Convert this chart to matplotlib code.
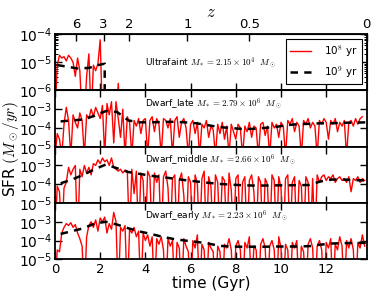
import numpy as np
import matplotlib
matplotlib.use("Agg")
import matplotlib.pyplot as plt
from matplotlib.ticker import FixedLocator, LogLocator, NullFormatter

plt.rcParams['mathtext.fontset'] = 'cm'
plt.rcParams['xtick.direction'] = 'in'
plt.rcParams['ytick.direction'] = 'in'

# log10 SFR, 0.1 Gyr bins starting at t = 0 (-7 means no star formation)
uf_red = [-7, -5.1, -4.75, -4.85, -4.8, -4.95, -4.75, -4.85, -5.0, -5.5,
          -4.85, -5.3, -7, -7, -5.5, -4.7, -7, -5.1, -5.3, -5.05,
          -4.2, -7, -7, -7, -7, -7, -7, -7, -5.75, -7]
late_red = [-5.5, -4.3, -4.6, -5.5, -3.8, -2.9, -3.6, -5.5, -3.3, -3.7,
            -4.0, -3.2, -3.6, -5.5, -3.3, -3.5, -3.0, -3.4, -2.9, -3.2,
            -3.5, -2.8, -5.5, -2.7, -3.3, -2.6, -4.8, -2.6, -3.5, -4.5,
            -3.0, -5.5, -3.4, -3.7, -5.5, -3.6, -3.9, -3.5, -4.3, -3.6,
            -3.5, -5.5, -3.6, -3.4, -4.2, -3.5, -3.8, -5.5, -3.5, -3.6,
            -4.0, -3.5, -5.5, -3.6, -3.4, -4.5, -3.7, -3.5, -4.0, -5.5,
            -3.8, -3.6, -4.3, -3.7, -5.5, -3.8, -4.0, -3.6, -4.5, -3.9,
            -4.1, -5.5, -3.8, -4.3, -3.7, -4.6, -3.9, -5.5, -3.8, -4.2,
            -4.6, -3.8, -4.0, -5.5, -3.9, -4.2, -3.7, -4.5, -3.9, -4.0,
            -5.5, -3.8, -3.7, -4.4, -3.9, -5.5, -3.7, -4.0, -3.8, -4.5,
            -3.7, -3.9, -5.5, -3.6, -3.8, -3.5, -4.2, -3.7, -3.9, -5.5,
            -3.6, -3.8, -3.5, -4.0, -3.7, -3.9, -5.5, -3.6, -3.8, -3.5,
            -3.7, -4.6, -3.6, -3.8, -3.5, -4.2, -3.7, -3.9, -3.6, -5.5,
            -3.7, -3.6, -3.9, -3.5, -3.8, -3.5, -3.4]
mid_red = [-7, -4.1, -4.4, -7, -4.2, -3.9, -3.1, -3.5, -3.2, -3.0,
           -7, -3.2, -3.6, -3.0, -3.4, -3.1, -3.5, -2.9, -3.0, -2.7,
           -2.9, -2.6, -2.8, -2.7, -3.0, -2.6, -3.1, -3.2, -3.3, -3.2,
           -3.4, -3.25, -3.3, -7, -3.2, -4.5, -3.3, -7, -3.4, -3.8,
           -7, -3.3, -3.6, -7, -3.4, -3.9, -3.5, -7, -3.6, -3.3,
           -4.2, -7, -3.7, -3.5, -7, -3.8, -3.4, -4.6, -7, -3.6,
           -3.9, -7, -3.5, -4.0, -7, -3.7, -3.3, -7, -3.6, -4.1,
           -7, -3.5, -3.9, -7, -3.6, -3.8, -7, -3.4, -4.3, -7,
           -3.7, -3.5, -7, -3.9, -3.6, -7, -3.8, -3.5, -4.4, -7,
           -3.6, -3.9, -7, -3.7, -4.0, -7, -3.5, -3.8, -7, -3.6,
           -4.2, -7, -3.7, -3.5, -7, -3.9, -3.6, -7, -3.8, -4.1,
           -7, -3.6, -3.9, -7, -3.7, -7, -3.5, -3.9, -3.6, -3.5,
           -3.8, -3.6, -3.7, -3.5, -3.9, -3.7, -3.6, -3.8, -3.7, -3.9,
           -3.6, -4.4, -3.7, -3.8, -3.6, -3.9, -3.7, -3.8]
early_red = [-7, -4.5, -4.6, -3.6, -3.3, -3.1, -3.2, -3.05, -3.3, -3.15,
             -3.6, -3.9, -4.3, -7, -3.8, -3.2, -3.0, -3.3, -2.9, -3.5,
             -2.8, -3.0, -2.75, -3.6, -3.1, -3.4, -2.5, -3.0, -7, -3.3,
             -3.5, -3.2, -7, -3.4, -3.6, -3.3, -3.8, -3.5, -7, -3.6,
             -4.0, -3.7, -4.3, -3.8, -7, -3.9, -4.2, -3.8, -4.5, -7,
             -3.9, -4.3, -4.0, -7, -4.1, -4.4, -7, -3.9, -4.3, -4.6,
             -7, -4.0, -4.4, -3.7, -7, -4.2, -4.5, -7, -4.1, -4.4,
             -4.6, -7, -4.3, -4.6, -7, -4.2, -4.4, -3.9, -4.5, -7,
             -4.3, -4.0, -4.5, -7, -4.1, -4.4, -3.8, -7, -4.3, -4.5,
             -7, -4.2, -3.9, -4.4, -7, -4.3, -4.0, -4.5, -7, -3.8,
             -4.4, -7, -4.2, -4.5, -7, -4.1, -4.4, -4.0, -7, -4.3,
             -4.6, -7, -4.2, -3.9, -4.4, -7, -4.3, -4.0, -4.5, -7,
             -4.1, -4.4, -3.9, -7, -4.2, -4.5, -3.8, -4.3, -7, -4.0,
             -4.4, -3.9, -4.5, -7, -4.1, -4.4, -3.7, -4.3]

# 1e9 yr averages
uf_t9 = [0.1, 0.5, 1.0, 1.5, 2.0, 2.2, 2.2]
uf_dash = [-5.1, -5.15, -5.22, -5.2, -5.08, -5.05, -7]
t9 = [0.25, 0.75, 1.25, 1.75, 2.25, 2.75, 3.25, 3.75, 4.25, 4.75, 5.25, 5.75, 6.25, 6.75,
      7.25, 7.75, 8.25, 8.75, 9.25, 9.75, 10.25, 10.75, 11.25, 11.75, 12.25, 12.75, 13.25, 13.75]
late_dash = [-3.65, -3.6, -3.55, -3.35, -3.1, -3.15, -3.6, -3.7, -3.7, -3.68, -3.67, -3.7, -3.75, -3.85,
             -3.95, -4.0, -4.05, -4.05, -4.0, -3.95, -3.85, -3.8, -3.78, -3.75, -3.75, -3.72, -3.72, -3.7]
mid_dash = [-3.95, -3.75, -3.5, -3.2, -2.95, -3.15, -3.35, -3.45, -3.55, -3.62, -3.7, -3.78, -3.85, -3.92,
            -3.98, -4.02, -4.05, -4.07, -4.07, -4.06, -4.06, -4.05, -4.04, -3.85, -3.75, -3.75, -3.78, -3.8]
early_dash = [-3.65, -3.5, -3.35, -3.1, -3.0, -3.15, -3.35, -3.52, -3.65, -3.8, -3.92, -4.0, -4.07, -4.15,
              -4.28, -4.32, -4.33, -4.33, -4.33, -4.32, -4.32, -4.32, -4.3, -4.22, -4.16, -4.14, -4.13, -4.12]

names = ["Ultrafaint", "Dwarf_late", "Dwarf_middle", "Dwarf_early"]
masses = [r"$M_*=2.15\times10^4\ \ M_\odot$", r"$M_*=2.79\times10^6\ \ M_\odot$",
          r"$M_*=2.66\times10^6\ \ M_\odot$", r"$M_*=2.23\times10^6\ \ M_\odot$"]
reds = [uf_red, late_red, mid_red, early_red]
dashes = [(uf_t9, uf_dash), (t9, late_dash), (t9, mid_dash), (t9, early_dash)]

z_ticks = [6, 3, 2, 1, 0.5, 0]
z_labels = ["6", "3", "2", "1", "0.5", "0"]
t_max = 13.8


def t_of_z(z):
    # flat LCDM age, H0=67.7, Om=0.31
    A = 2.0 / (3 * 0.8307) * 14.44
    return A * np.arcsinh(1.492 * (1.0 + np.asarray(z, float)) ** -1.5)


fig, axes = plt.subplots(4, 1, figsize=(3.74, 2.97), dpi=100, sharex=True)
fig.subplots_adjust(left=0.147, right=0.981, top=0.885, bottom=0.127, hspace=0)

for i, ax in enumerate(axes):
    r = np.array(reds[i])
    t = np.arange(len(r)) * 0.1
    ax.plot(t, 10.0 ** r, color='red', lw=1.0, label=r'10$^8$ yr')
    td, vd = dashes[i]
    ax.plot(td, 10.0 ** np.array(vd), color='black', ls='--', lw=1.8, dashes=(3, 2.5),
            label=r'10$^9$ yr')
    ax.set_yscale('log')
    if i == 0:
        ax.set_ylim(1e-6, 1e-4)
        exps = [-6, -5, -4]
        ty = 0.48
    else:
        ax.set_ylim(1e-5, 1e-2)
        exps = [-5, -4, -3]
        ty = 0.76
    ax.yaxis.set_major_locator(FixedLocator([10.0 ** e for e in exps]))
    ax.set_yticklabels([r"$\mathregular{10^{%d}}$" % e for e in exps], fontsize=10)
    ax.yaxis.set_minor_locator(LogLocator(base=10, subs=np.arange(2, 10)))
    ax.yaxis.set_minor_formatter(NullFormatter())
    ax.tick_params(which='both', top=True, right=True)
    ax.tick_params(which='major', length=5, width=1, pad=2)
    ax.tick_params(which='minor', length=2.5, width=0.7)
    for s in ax.spines.values():
        s.set_linewidth(1.3)
    lo, hi = np.log10(ax.get_ylim())
    ax.text(4.0, 10 ** (lo + ty * (hi - lo)), names[i] + " " + masses[i],
            fontsize=6.5, va='center', ha='left')

axes[-1].set_xlim(0, t_max)
axes[-1].set_xticks([0, 2, 4, 6, 8, 10, 12])
axes[-1].tick_params(axis='x', labelsize=9.5, pad=3)
axes[-1].set_xlabel("time (Gyr)", fontsize=11, labelpad=0)
fig.text(0.03, 0.5, r"SFR $(M_\odot/yr)$", rotation=90, fontsize=11, va='center', ha='center')

leg = axes[0].legend(loc='upper right', fontsize=7.5, fancybox=False, framealpha=1,
                     edgecolor='black', handlelength=2.0, borderpad=0.4, labelspacing=0.5,
                     handletextpad=1.2)
leg.get_frame().set_linewidth(0.8)

top = axes[0].twiny()
top.set_xlim(0, t_max)
top.set_xticks(t_of_z(z_ticks))
top.set_xticklabels(z_labels, fontsize=9.5)
top.tick_params(axis='x', direction='in', length=5, width=1, pad=2)
top.set_xlabel(r"$z$", fontsize=12, labelpad=1)

fig.savefig("out.png", dpi=100)
